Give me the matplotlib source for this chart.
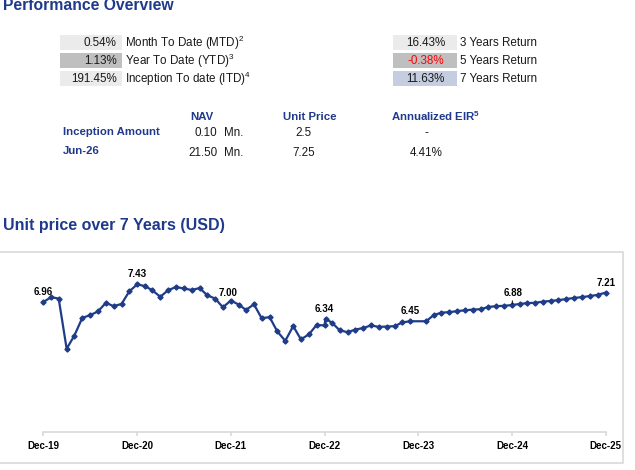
import matplotlib
matplotlib.use("Agg")
import matplotlib.pyplot as plt
import matplotlib.dates as mdates
from matplotlib.patches import Rectangle
import numpy as np
import pandas as pd

plt.rcParams["font.family"] = ["Liberation Sans", "DejaVu Sans"]
plt.rcParams["mathtext.fontset"] = "custom"
plt.rcParams["mathtext.rm"] = "Liberation Sans"
plt.rcParams["mathtext.default"] = "regular"

# ------------------------------------------------------------------ data
left_values = ["0.54%", "1.13%", "191.45%"]
left_labels = ["Month To Date (MTD)$^{2}$", "Year To Date (YTD)$^{3}$",
               "Inception To date (ITD)$^{4}$"]
right_values = ["16.43%", "-0.38%", "11.63%"]
right_labels = ["3 Years Return", "5 Years Return", "7 Years Return"]

table_headers = ["NAV", "Unit Price", "Annualized EIR$^{5}$"]
table_rows = ["Inception Amount", "Jun-26"]
nav_values = ["0.10", "21.50"]
nav_units = ["Mn.", "Mn."]
unit_prices = ["2.5", "7.25"]
eir_values = ["-", "4.41%"]

# month-end unit prices, Dec-19 .. Dec-25 (Dec-23 not reported)
prices = [
    6.96, 7.09, 7.05, 5.72, 6.07, 6.54, 6.61, 6.71, 6.94, 6.85, 6.91, 7.24,
    7.43, 7.38, 7.27, 7.10, 7.27, 7.36, 7.32, 7.28, 7.33, 7.14, 7.05, 6.82,
    7.00, 6.89, 6.75, 6.90, 6.53, 6.56, 6.18, 5.93, 6.32, 5.97, 6.10, 6.35,
    6.34, 6.40, 6.21, 6.16, 6.23, 6.27, 6.34, 6.30, 6.31, 6.32, 6.42, 6.45,
    np.nan, 6.45, 6.61, 6.68, 6.69, 6.72, 6.74, 6.76, 6.77, 6.83, 6.85, 6.86,
    6.88, 6.91, 6.93, 6.94, 6.97, 6.99, 7.01, 7.04, 7.07, 7.09, 7.12, 7.15,
    7.21,
]
month_ends = pd.date_range("2019-12-31", "2025-12-31", freq="ME")
extra_date = "2023-01-04"
extra_price = 6.52

label_dates = ["2019-12-31", "2020-12-31", "2021-12-31", "2022-12-31",
               "2023-11-30", "2024-12-31", "2025-12-31"]
tick_dates = ["2019-12-31", "2020-12-31", "2021-12-31", "2022-12-31",
              "2023-12-31", "2024-12-31", "2025-12-31"]

# ------------------------------------------------------------------ style
W, H = 635, 470
BLUE = "#1F3A8C"
LINE = "#1F3C88"
GRID = "#D9D9D9"


def px(x, y):
    return x / W, 1 - y / H


fig = plt.figure(figsize=(W / 100, H / 100), dpi=100)
fig.patch.set_facecolor("white")

# titles
fig.text(*px(3, 6), "Performance Overview", fontsize=11.3, fontweight="bold",
         color=BLUE, va="center", ha="left")
fig.text(*px(3, 226), "Unit price over 7 Years (USD)", fontsize=11.5,
         fontweight="bold", color=BLUE, va="center", ha="left")

# performance boxes
left_colors = ["#EBEBEB", "#BFBFBF", "#EBEBEB"]
right_colors = ["#EBEBEB", "#BFBFBF", "#C5CEE0"]
right_text_colors = ["#1a1a1a", "#FF0000", "#1a1a1a"]
row_tops = [35.3, 53.3, 71.3]
for i in range(3):
    top = row_tops[i]
    yc = top + 7.3
    x0, y0 = px(60, top + 14.6)
    fig.add_artist(Rectangle((x0, y0), 61.7 / W, 14.6 / H,
                             transform=fig.transFigure, facecolor=left_colors[i],
                             edgecolor="none"))
    fig.text(*px(116.5, yc), left_values[i], fontsize=8.4, color="#1a1a1a",
             ha="right", va="center")
    fig.text(*px(125, yc), left_labels[i], fontsize=8.4, color="#1a1a1a",
             ha="left", va="center")

    x0, y0 = px(393.3, top + 14.6)
    fig.add_artist(Rectangle((x0, y0), 63.4 / W, 14.6 / H,
                             transform=fig.transFigure, facecolor=right_colors[i],
                             edgecolor="none"))
    fig.text(*px(425.5, yc), right_values[i], fontsize=8.4,
             color=right_text_colors[i], ha="center", va="center")
    fig.text(*px(460, yc), right_labels[i], fontsize=8.4, color="#1a1a1a",
             ha="left", va="center")

# NAV table
header_x = [201.7, 309.7, 435.5]
for hx, h in zip(header_x, table_headers):
    fig.text(*px(hx, 116.5), h, fontsize=8.2, fontweight="bold", color=BLUE,
             ha="center", va="center")
row_y = [132.5, 151.5]
for i in range(2):
    fig.text(*px(63.3, row_y[i] - 0.5), table_rows[i], fontsize=8.2,
             fontweight="bold", color=BLUE, ha="left", va="center")
    fig.text(*px(217.3, row_y[i] + 1), nav_values[i], fontsize=8.4,
             color="#1a1a1a", ha="right", va="center")
    fig.text(*px(224, row_y[i] + 1), nav_units[i], fontsize=8.4,
             color="#1a1a1a", ha="left", va="center")
    fig.text(*px(303.5, row_y[i] + 1), unit_prices[i], fontsize=8.4,
             color="#1a1a1a", ha="center", va="center")
    fig.text(*px(426, row_y[i] + 1), eir_values[i], fontsize=8.4,
             color="#1a1a1a", ha="center", va="center")

# chart frame
x0, y0 = px(-1, 462.7)
fig.add_artist(Rectangle((x0, y0), 624 / W, 211 / H, transform=fig.transFigure,
                         facecolor="none", edgecolor=GRID, lw=1.2))

# ------------------------------------------------------------------ line chart
series = pd.Series(prices, index=month_ends)
series.loc[pd.Timestamp(extra_date)] = extra_price
series = series.sort_index().dropna()

ax = fig.add_axes([43.3 / W, (H - 431.7) / H, (605.7 - 43.3) / W,
                   (431.7 - 260) / H])
ax.plot(series.index, series.values, color=LINE, lw=1.6, marker="D",
        markersize=2.6, clip_on=False, zorder=3)
ax.set_xlim(month_ends[0], month_ends[-1])
ax.set_ylim(3.52, 8.075)

for side in ("left", "top", "right"):
    ax.spines[side].set_visible(False)
ax.spines["bottom"].set_color(GRID)
ax.spines["bottom"].set_linewidth(1.2)
ax.set_yticks([])
ax.set_xticks(pd.to_datetime(tick_dates))
ax.xaxis.set_major_formatter(mdates.DateFormatter("%b-%y"))
ax.tick_params(axis="x", direction="out", length=3, width=1.2, color=GRID,
               pad=3.5, labelsize=7)
for lab in ax.get_xticklabels():
    lab.set_fontweight("bold")
ax.patch.set_alpha(0)

offsets = [(0, 10), (0, 10), (-3, 7.5), (0, 16), (0, 10), (1, 12), (0, 10)]
for d, off in zip(label_dates, offsets):
    t = pd.Timestamp(d)
    v = series.loc[t]
    kw = {}
    if off[1] > 11 and d.startswith("2024"):
        kw["arrowprops"] = dict(arrowstyle="-", color="black", lw=0.7,
                                shrinkA=0, shrinkB=1)
    ax.annotate(f"{v:.2f}", xy=(t, v), xytext=off, textcoords="offset pixels",
                ha="center", va="center", fontsize=7, fontweight="bold",
                color="black", annotation_clip=False, **kw)

fig.savefig("out.png", dpi=100)
